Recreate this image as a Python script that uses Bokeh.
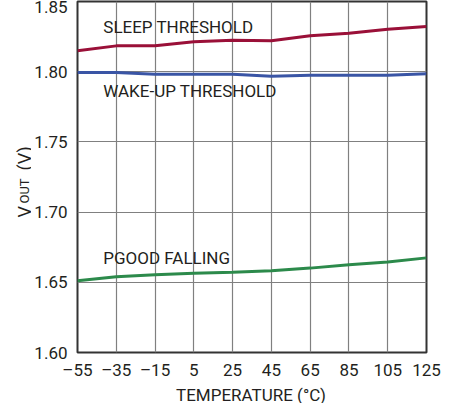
from bokeh.plotting import figure
from bokeh.models import Range1d, FixedTicker, Label
from bokeh.layouts import row, column
from bokeh.embed import file_html
from bokeh.resources import INLINE
import math

temps = [-55, -35, -15, 5, 25, 45, 65, 85, 105, 125]
sleep_threshold = [1.8149, 1.8184, 1.8184, 1.8213, 1.8224, 1.8220, 1.8256, 1.8274, 1.8303, 1.8322]
wakeup_threshold = [1.7994, 1.7995, 1.7982, 1.7981, 1.7982, 1.7967, 1.7975, 1.7975, 1.7975, 1.7985]
pgood_falling = [1.6511, 1.6540, 1.6553, 1.6565, 1.6572, 1.6582, 1.6601, 1.6625, 1.6644, 1.6674]

x_ticks = [-55, -35, -15, 5, 25, 45, 65, 85, 105, 125]
x_tick_labels = ["–55", "–35", "–15", "5", "25", "45", "65", "85", "105", "125"]
y_ticks = [1.60, 1.65, 1.70, 1.75, 1.80, 1.85]
y_tick_labels = ["1.60", "1.65", "1.70", "1.75", "1.80", "1.85"]

FONT = "Roboto"
TXT = "#231f20"
H = 386


def blank(fig):
    fig.outline_line_color = None
    fig.grid.visible = False
    fig.background_fill_color = "white"
    fig.border_fill_color = "white"


p = figure(width=415, height=H, output_backend="svg", toolbar_location=None,
           x_range=Range1d(-55, 125), y_range=Range1d(1.60, 1.85),
           min_border_left=44, min_border_right=20, min_border_top=1, min_border_bottom=34)
p.background_fill_color = "white"
p.border_fill_color = "white"
p.outline_line_color = "#333333"
p.outline_line_width = 2

for ax in (p.xaxis[0], p.yaxis[0]):
    ax.axis_line_color = None
    ax.major_tick_line_color = None
    ax.minor_tick_line_color = None
    ax.major_tick_out = 0
    ax.major_tick_in = 0
    ax.minor_tick_out = 0
    ax.minor_tick_in = 0
    ax.major_label_text_font = FONT
    ax.major_label_text_font_size = "17px"
    ax.major_label_text_color = TXT

p.xaxis.ticker = FixedTicker(ticks=x_ticks)
p.xaxis.major_label_overrides = {t: l for t, l in zip(x_ticks, x_tick_labels)}
p.xaxis.major_label_standoff = 7

p.yaxis.ticker = FixedTicker(ticks=y_ticks)
p.yaxis.major_label_overrides = {t: l for t, l in zip(y_ticks, y_tick_labels)}
p.yaxis.major_label_standoff = 10

p.xgrid.ticker = FixedTicker(ticks=x_ticks)
p.ygrid.ticker = FixedTicker(ticks=y_ticks)
p.grid.grid_line_color = "#808080"
p.grid.grid_line_width = 1.2

p.line(temps, sleep_threshold, line_color="#9a1038", line_width=3)
p.line(temps, wakeup_threshold, line_color="#3a55a5", line_width=3)
p.line(temps, pgood_falling, line_color="#2c8a4b", line_width=3)


def add_text(fig, x, y, t, size="17px", angle=0.0, baseline="middle", units="data", align="left"):
    fig.add_layout(Label(x=x, y=y, text=t, text_font=FONT, text_font_size=size,
                         text_color=TXT, text_baseline=baseline, text_align=align,
                         angle=angle, x_units=units, y_units=units))


add_text(p, -41.7, 1.8315, "SLEEP THRESHOLD")
add_text(p, -41.7, 1.7859, "WAKE-UP THRESHOLD")
add_text(p, -41.7, 1.6670, "PGOOD FALLING")

# narrow strip on the left holding the rotated y-axis title V_OUT (V)
lab = figure(width=31, height=H, output_backend="svg", toolbar_location=None,
             x_range=Range1d(0, 1), y_range=Range1d(0, 1),
             x_axis_location=None, y_axis_location=None,
             min_border_left=0, min_border_right=0, min_border_top=1, min_border_bottom=34)
blank(lab)
add_text(lab, 24, 135, "V", size="18px", angle=math.pi / 2, baseline="alphabetic", units="screen")
add_text(lab, 24, 149, "OUT", size="13px", angle=math.pi / 2, baseline="alphabetic", units="screen")
add_text(lab, 24, 182, "(V)", size="18px", angle=math.pi / 2, baseline="alphabetic", units="screen")

# strip below holding the x-axis title
bot = figure(width=446, height=17, output_backend="svg", toolbar_location=None,
             x_range=Range1d(0, 1), y_range=Range1d(0, 1),
             x_axis_location=None, y_axis_location=None,
             min_border_left=0, min_border_right=0, min_border_top=0, min_border_bottom=0)
blank(bot)
add_text(bot, 250.5, 8.5, "TEMPERATURE (°C)", size="17px", baseline="middle", units="screen", align="center")

layout = column(row(lab, p), bot)
open("out.html", "w").write(file_html(layout, INLINE))
